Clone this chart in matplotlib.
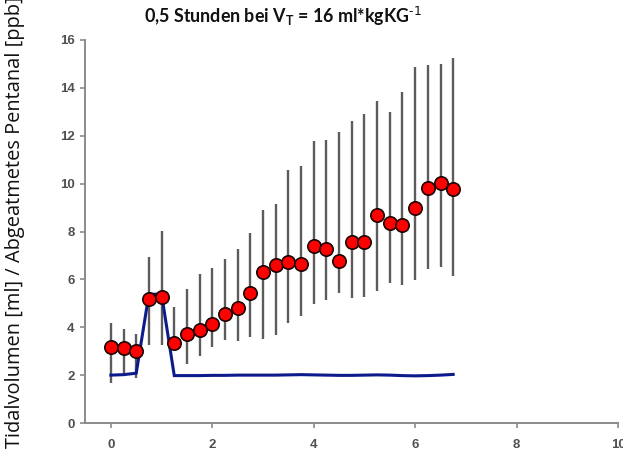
import matplotlib
matplotlib.use("Agg")
import matplotlib.pyplot as plt
import numpy as np

# Time after start of ventilation [h]
time_h = [0.0, 0.25, 0.5, 0.75, 1.0, 1.25, 1.5, 1.75, 2.0, 2.25, 2.5, 2.75,
          3.0, 3.25, 3.5, 3.75, 4.0, 4.25, 4.5, 4.75, 5.0, 5.25, 5.5, 5.75,
          6.0, 6.25, 6.5, 6.75]

# Exhaled pentanal [ppb] with lower / upper bounds of the spread
pentanal = [3.18, 3.15, 3.02, 5.20, 5.27, 3.35, 3.70, 3.90, 4.15, 4.55, 4.80, 5.42,
            6.30, 6.60, 6.73, 6.63, 7.40, 7.27, 6.77, 7.55, 7.55, 8.71, 8.35, 8.28,
            8.98, 9.82, 10.03, 9.77]
pentanal_upper = [4.19, 3.91, 3.72, 6.95, 8.04, 4.86, 5.60, 6.21, 6.49, 6.84, 7.28, 7.93,
                  8.90, 9.15, 10.57, 10.74, 11.80, 11.83, 12.15, 12.60, 12.91, 13.47, 13.01, 13.83,
                  14.86, 14.95, 14.98, 15.25]
pentanal_lower = [1.68, 2.07, 1.87, 3.26, 3.26, 3.10, 2.48, 2.80, 3.17, 3.45, 3.42, 3.58,
                  3.51, 3.68, 4.17, 4.48, 4.96, 5.14, 5.42, 5.21, 5.28, 5.53, 5.86, 5.77,
                  5.98, 6.42, 6.53, 6.16]

# Tidal volume [ml]
tidal_volume = [2.00, 2.02, 2.08, 5.38, 5.38, 1.98, 1.98, 1.98, 1.99, 1.99, 2.00, 2.00,
                2.00, 2.00, 2.01, 2.02, 2.01, 2.00, 1.99, 1.99, 2.00, 2.01, 2.00, 1.98,
                1.97, 1.98, 2.00, 2.03]

x_ticks = [0, 2, 4, 6, 8, 10]
y_ticks = [0, 2, 4, 6, 8, 10, 12, 14, 16]

fig = plt.figure(figsize=(6.23, 4.57), dpi=100)
ax = fig.add_axes([85 / 623, 34 / 457, 533 / 623, 383 / 457])

pent = np.array(pentanal)
yerr = np.vstack([pent - np.array(pentanal_lower), np.array(pentanal_upper) - pent])

ax.errorbar(time_h, pentanal, yerr=yerr, fmt="none", ecolor="#5c5c5c",
            elinewidth=1.7, capsize=0, zorder=2)
ax.plot(time_h, tidal_volume, color="#0c1a8c", linewidth=2.2, zorder=3,
        solid_joinstyle="miter")
ax.plot(time_h, pentanal, linestyle="none", marker="o", markersize=9.6,
        markerfacecolor="#ff0000", markeredgecolor="#1a0000", markeredgewidth=1.2,
        zorder=4)

ax.set_xlim(-0.51, 10)
ax.set_ylim(0, 16)
ax.set_xticks(x_ticks)
ax.set_yticks(y_ticks)

for side in ("top", "right"):
    ax.spines[side].set_visible(False)
for side in ("left", "bottom"):
    ax.spines[side].set_color("#8a8a8a")
    ax.spines[side].set_linewidth(1.4)
    ax.spines[side].set_clip_on(False)

ax.tick_params(axis="both", direction="out", length=3.5, width=1.2, color="#8a8a8a",
               labelsize=9.5, labelcolor="#505050")
ax.tick_params(axis="x", pad=8)
ax.tick_params(axis="y", pad=4)
for lab in ax.get_xticklabels() + ax.get_yticklabels():
    lab.set_fontfamily("Liberation Sans")
    lab.set_fontweight("bold")

fig.text(0.024, 1 - 222 / 457, "Tidalvolumen [ml] / Abgeatmetes Pentanal [ppb]",
         rotation=90, ha="center", va="center", fontsize=14.4,
         family="Open Sans", color="#111111")

fig.text(283 / 623, 1 - 16 / 457,
         r"0,5 Stunden bei V$_\mathregular{T}$ = 16 ml*kgKG$^{\text{-1}}$",
         ha="center", va="center", fontsize=12.9, family="Lato",
         fontweight="bold", color="#111111")

fig.savefig("out.png", dpi=100)
